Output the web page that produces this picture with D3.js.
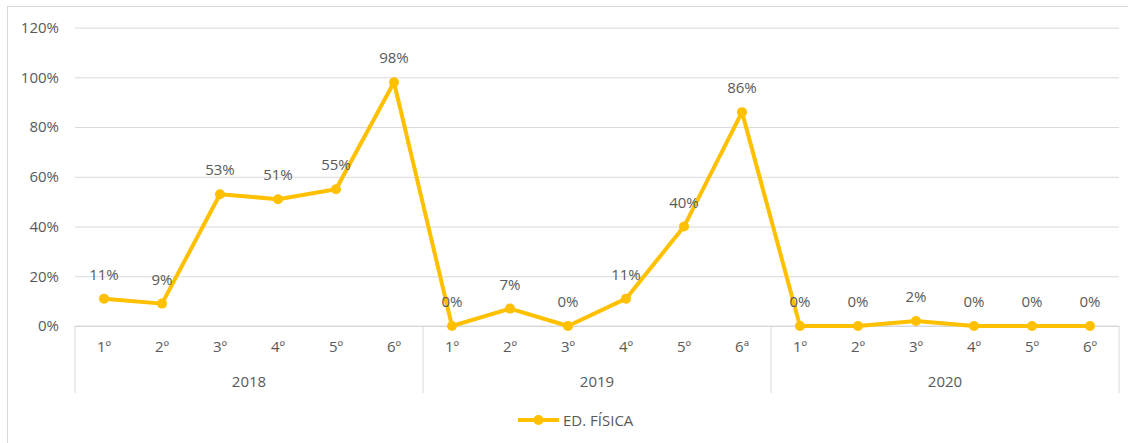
<!DOCTYPE html>
<html>
<head>
<meta charset="utf-8">
<script src="https://cdn.jsdelivr.net/npm/d3@7"></script>
<style>
  body { margin: 0; background: #fff; }
  text { font-family: "Open Sans", sans-serif; fill: #595959; }
</style>
</head>
<body>
<svg id="chart" width="1128" height="443"></svg>
<script>
// data
var years = ["2018", "2019", "2020"];
var grades = [
    ["1º", "2º", "3º", "4º", "5º", "6º"],
    ["1º", "2º", "3º", "4º", "5º", "6ª"],
    ["1º", "2º", "3º", "4º", "5º", "6º"]
];
var values = [11, 9, 53, 51, 55, 98, 0, 7, 0, 11, 40, 86, 0, 0, 2, 0, 0, 0];
var yTicks = [0, 20, 40, 60, 80, 100, 120];
var seriesName = "ED. FÍSICA";

var margin = {top: 27.6, right: 9, bottom: 117, left: 75};
var width = 1128 - margin.left - margin.right;
var height = 443 - margin.top - margin.bottom;
var lineColor = "#FFC000";
var gridColor = "#d9d9d9";

var svg = d3.select("#chart");

// outer frame (cut at right and bottom like the reference)
svg.append("rect")
    .attr("x", 7.5).attr("y", 6.5)
    .attr("width", 1130).attr("height", 450)
    .attr("fill", "none")
    .attr("stroke", "#d9d9d9");

var g = svg.append("g").attr("transform", `translate(${margin.left},${margin.top})`);

var points = [];
years.forEach((yr, i) => grades[i].forEach((gr, j) => points.push({year: yr, grade: gr, idx: points.length})));
points.forEach((p, i) => p.value = values[i]);

var x = d3.scaleBand()
    .domain(points.map(d => d.idx))
    .range([0, width]);

var y = d3.scaleLinear()
    .domain([0, 120])
    .range([height, 0]);

// y axis + gridlines
var yAxis = g.append("g")
    .call(d3.axisLeft(y).tickValues(yTicks).tickSize(-width).tickPadding(16).tickFormat(d => d + "%"));
yAxis.select(".domain").remove();
yAxis.selectAll("line").attr("stroke", gridColor);
yAxis.selectAll("text").style("font-size", "15px").attr("fill", "#595959");

// category axis
var axisG = g.append("g").attr("transform", `translate(0,${height})`);
axisG.append("line")
    .attr("x1", 0).attr("x2", width)
    .attr("stroke", gridColor);

axisG.selectAll(".grade")
    .data(points)
    .enter().append("text")
    .attr("class", "grade")
    .attr("x", d => x(d.idx) + x.bandwidth() / 2)
    .attr("y", 26)
    .attr("text-anchor", "middle")
    .style("font-size", "15px")
    .text(d => d.grade);

var groups = years.map(yr => {
    var ps = points.filter(p => p.year === yr);
    return {year: yr, x0: x(ps[0].idx), x1: x(ps[ps.length - 1].idx) + x.bandwidth()};
});

var seps = [groups[0].x0].concat(groups.map(d => d.x1));
axisG.selectAll(".sep")
    .data(seps)
    .enter().append("line")
    .attr("class", "sep")
    .attr("x1", d => d).attr("x2", d => d)
    .attr("y1", 0).attr("y2", 67)
    .attr("stroke", gridColor);

axisG.selectAll(".year")
    .data(groups)
    .enter().append("text")
    .attr("class", "year")
    .attr("x", d => (d.x0 + d.x1) / 2)
    .attr("y", 61)
    .attr("text-anchor", "middle")
    .style("font-size", "15px")
    .text(d => d.year);

// the line
var line = d3.line()
    .x(d => x(d.idx) + x.bandwidth() / 2)
    .y(d => y(d.value));

g.append("path")
    .datum(points)
    .attr("d", line)
    .attr("fill", "none")
    .attr("stroke", lineColor)
    .attr("stroke-width", 4)
    .attr("stroke-linejoin", "round");

g.selectAll(".dot")
    .data(points)
    .enter().append("circle")
    .attr("class", "dot")
    .attr("cx", d => x(d.idx) + x.bandwidth() / 2)
    .attr("cy", d => y(d.value))
    .attr("r", 5)
    .attr("fill", lineColor);

g.selectAll(".lbl")
    .data(points)
    .enter().append("text")
    .attr("class", "lbl")
    .attr("x", d => x(d.idx) + x.bandwidth() / 2)
    .attr("y", d => y(d.value) - 19)
    .attr("text-anchor", "middle")
    .style("font-size", "15px")
    .text(d => d.value + "%");

// legend
var legend = svg.append("g").attr("transform", "translate(518,420)");
legend.append("line")
    .attr("x1", 0).attr("x2", 41)
    .attr("stroke", lineColor).attr("stroke-width", 4);
legend.append("circle")
    .attr("cx", 20.5).attr("r", 5).attr("fill", lineColor);
legend.append("text")
    .attr("x", 45).attr("y", 5.5)
    .style("font-size", "15px")
    .text(seriesName);
</script>
</body>
</html>
